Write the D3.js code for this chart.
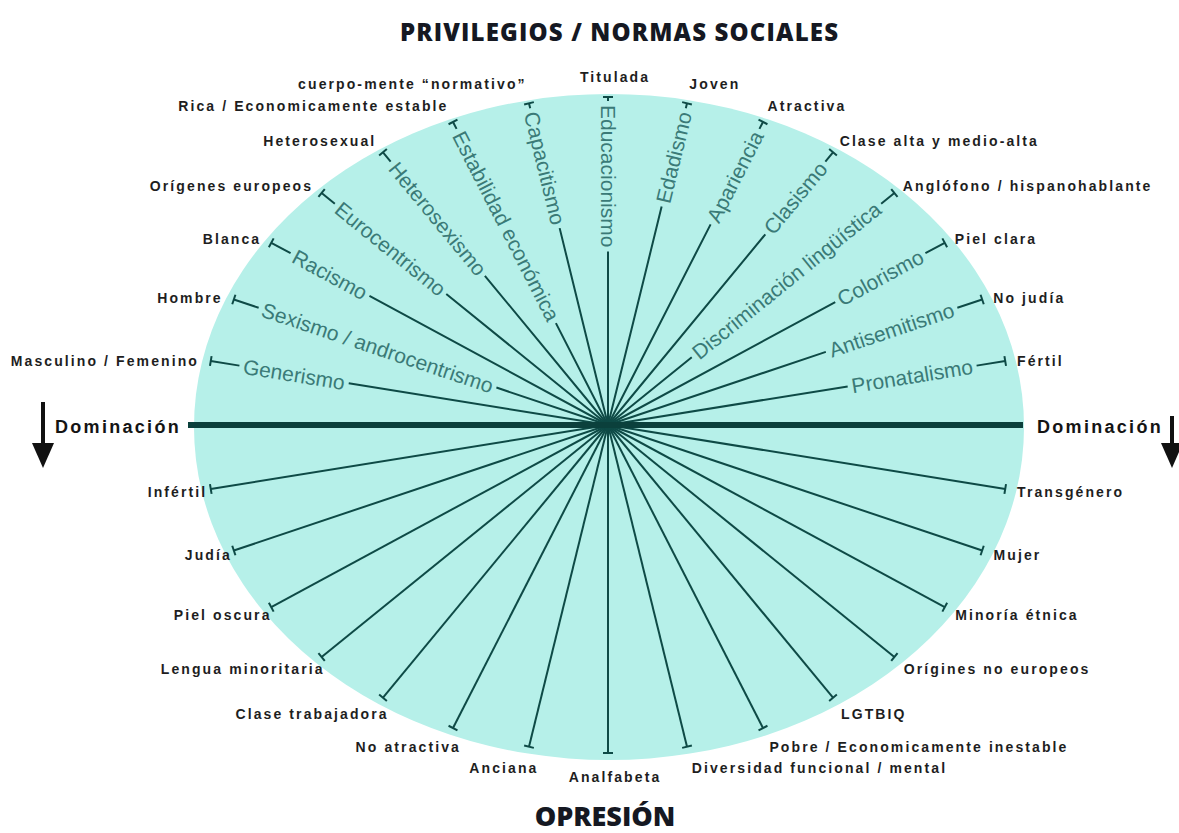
<!DOCTYPE html>
<html>
<head>
<meta charset="utf-8">
<script src="https://cdn.jsdelivr.net/npm/d3@7"></script>
<style>
body { margin: 0; background: #fff; }
svg { display: block; }
.label { font-family: "Liberation Sans", Arial, sans-serif; font-weight: bold; font-size: 14px; letter-spacing: 2.1px; fill: #1e1e1e; }
.ismo { font-family: "Liberation Sans", Arial, sans-serif; font-size: 21px; fill: #3a7a77; }
.axis-text { font-family: "Liberation Sans", Arial, sans-serif; font-weight: bold; font-size: 18px; letter-spacing: 2.3px; fill: #141414; }
.title { font-family: "Open Sans", sans-serif; font-weight: 800; font-size: 24px; fill: #151822; }
</style>
</head>
<body>
<div id="chart"></div>
<script>
// DATA ----------------------------------------
// one entry per spoke, from the upper right (near horizontal) round to the upper left
const ismos = ["Pronatalismo", "Antisemitismo", "Colorismo", "Discriminación lingüística", "Clasismo",
	"Apariencia", "Edadismo", "Educacionismo", "Capacitismo", "Estabilidad económica",
	"Heterosexismo", "Eurocentrismo", "Racismo", "Sexismo / androcentrismo", "Generismo"];

const privilegios = ["Fértil", "No judía", "Piel clara", "Anglófono / hispanohablante", "Clase alta y medio-alta",
	"Atractiva", "Joven", "Titulada", "cuerpo-mente \u201cnormativo\u201d", "Rica / Economicamente estable",
	"Heterosexual", "Orígenes europeos", "Blanca", "Hombre", "Masculino / Femenino"];

const opresiones = ["Infértil", "Judía", "Piel oscura", "Lengua minoritaria", "Clase trabajadora",
	"No atractiva", "Anciana", "Analfabeta", "Diversidad funcional / mental", "Pobre / Economicamente inestable",
	"LGTBIQ", "Orígines no europeos", "Minoría étnica", "Mujer", "Transgénero"];

const titulo = "PRIVILEGIOS / NORMAS SOCIALES";
const pie = "OPRESIÓN";
const eje = "Dominación";

// CHART INIT ----------------------------------------
const width = 1179, height = 833;
const cx = 608, cy = 425;
const rx = 405, ry = 328;      // where the spokes end
const lineColor = '#0e4a46';

const svg = d3.select('#chart').append('svg')
	.attr('width', width)
	.attr('height', height);

// spoke index -> angle round the half ellipse
const angle = d3.scaleLinear()
	.domain([0, ismos.length + 1])
	.range([0, Math.PI]);

svg.append('ellipse')
	.attr('cx', cx + 1)
	.attr('cy', cy + 2)
	.attr('rx', 415)
	.attr('ry', 333)
	.attr('fill', '#b6f0e9');

const spokes = ismos.map((name, i) => {
	const th = angle(i + 1);
	const dx = rx * Math.cos(th), dy = -ry * Math.sin(th);
	const len = Math.hypot(dx, dy);
	return {name, priv: privilegios[i], opr: opresiones[i], th, ux: dx / len, uy: dy / len, len};
});

const at = (d, t) => [cx + d.ux * t, cy + d.uy * t];
const seg = d3.line();

const g = svg.append('g');

spokes.forEach(d => {
	const c = Math.cos(d.th), s = Math.sin(d.th);
	const right = c > 1e-6;

	// ismo text along the upper half
	const gap = 8 + 26 * c * c;
	const tOut = d.len - gap;
	const p = at(d, tOut);
	const rot = right ? Math.atan2(d.uy, d.ux) : Math.atan2(-d.uy, -d.ux);
	const txt = g.append('text')
		.attr('class', 'ismo')
		.attr('transform', `translate(${p[0]},${p[1]}) rotate(${rot * 180 / Math.PI})`)
		.attr('text-anchor', right ? 'end' : 'start')
		.attr('dominant-baseline', 'central')
		.text(d.name);
	const L = txt.node().getComputedTextLength();

	// upper half, broken around the text
	g.append('path')
		.attr('d', seg([at(d, 0), at(d, tOut - L - 4)]) + seg([at(d, tOut + 4), at(d, d.len)]))
		.attr('stroke', lineColor)
		.attr('stroke-width', 2)
		.attr('fill', 'none');

	// lower half
	g.append('path')
		.attr('d', seg([at(d, 0), at(d, -d.len)]))
		.attr('stroke', lineColor)
		.attr('stroke-width', 2)
		.attr('fill', 'none');

	// end ticks
	[1, -1].forEach(sign => {
		const e = at(d, sign * d.len);
		g.append('path')
			.attr('d', seg([[e[0] - d.uy * 5, e[1] + d.ux * 5], [e[0] + d.uy * 5, e[1] - d.ux * 5]]))
			.attr('stroke', lineColor)
			.attr('stroke-width', 2);
	});

	// privilege label (upper end)
	const P = at(d, d.len);
	const up = g.append('text').attr('class', 'label').attr('dominant-baseline', 'central').text(d.priv);
	if (Math.abs(c) < 0.05) {
		up.attr('text-anchor', 'middle').attr('x', P[0] + 7).attr('y', P[1] - 20);
	} else {
		up.attr('text-anchor', c > 0 ? 'start' : 'end')
			.attr('x', P[0] + 12 * c)
			.attr('y', P[1] - 20 * Math.pow(s, 3));
	}

	// oppression label (lower end)
	const Q = at(d, -d.len);
	const lo = g.append('text').attr('class', 'label').attr('dominant-baseline', 'central').text(d.opr);
	if (Math.abs(c) < 0.05) {
		lo.attr('text-anchor', 'middle').attr('x', Q[0] + 7).attr('y', Q[1] + 24);
	} else if (c > 0) {
		// lower end sits on the left
		lo.attr('text-anchor', 'end')
			.attr('x', Q[0] - 4 + 14 * s * s)
			.attr('y', Q[1] + 2 + 20 * s * s);
	} else {
		lo.attr('text-anchor', 'start')
			.attr('x', Q[0] + 3 + 9 * Math.abs(c))
			.attr('y', Q[1] + 2 + 20 * s * s);
	}
});

// horizontal axis
svg.append('line')
	.attr('x1', 188).attr('x2', 1023)
	.attr('y1', cy).attr('y2', cy)
	.attr('stroke', '#0b403c')
	.attr('stroke-width', 6);

svg.append('text')
	.attr('class', 'axis-text')
	.attr('x', 55).attr('y', cy + 2)
	.attr('dominant-baseline', 'central')
	.text(eje);

svg.append('text')
	.attr('class', 'axis-text')
	.attr('x', 1037).attr('y', cy + 2)
	.attr('dominant-baseline', 'central')
	.text(eje);

// down arrows
[[43, 402], [1172, 416]].forEach(([x, y0]) => {
	svg.append('line')
		.attr('x1', x).attr('x2', x)
		.attr('y1', y0).attr('y2', 446)
		.attr('stroke', '#111')
		.attr('stroke-width', 4);
	svg.append('path')
		.attr('d', `M${x - 11},443L${x + 11},443L${x},468Z`)
		.attr('fill', '#111');
});

// titles
svg.append('text')
	.attr('class', 'title')
	.attr('x', 619).attr('y', 41)
	.attr('text-anchor', 'middle')
	.attr('textLength', 438)
	.text(titulo);

svg.append('text')
	.attr('class', 'title')
	.attr('x', 605).attr('y', 826)
	.attr('text-anchor', 'middle')
	.style('font-size', '27px')
	.text(pie);
</script>
</body>
</html>
